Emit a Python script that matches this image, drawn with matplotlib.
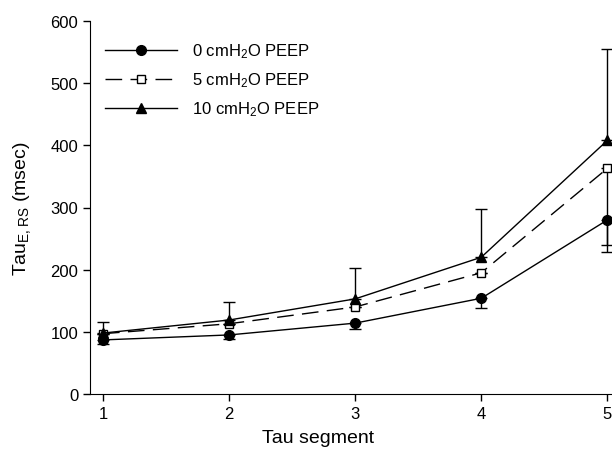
import matplotlib
matplotlib.use("Agg")
import matplotlib.pyplot as plt
from matplotlib.lines import Line2D

plt.rcParams['font.family'] = ['Liberation Sans', 'DejaVu Sans']
plt.rcParams['mathtext.default'] = 'regular'

# data
segments = [1, 2, 3, 4, 5]
peep0 = [87, 95, 114, 154, 280]
peep0_lo = [6, 7, 9, 15, 51]
peep5 = [97, 113, 140, 195, 363]
peep5_lo = [0, 0, 0, 0, 123]
peep10 = [98, 119, 153, 220, 408]
peep10_hi = [18, 29, 50, 77, 147]
labels = ['0 cmH$_2$O PEEP', '5 cmH$_2$O PEEP', '10 cmH$_2$O PEEP']

zeros = [0] * len(segments)

fig = plt.figure(figsize=(6.12, 4.52), dpi=100)
ax = fig.add_axes([90/612, 57/452, 530/612, 373/452])

eb = dict(color='black', lw=1, capsize=4.5, elinewidth=1, capthick=1)
ax.errorbar(segments, peep0, yerr=[peep0_lo, zeros], marker='o', ms=7, **eb)
ax.errorbar(segments, peep5, yerr=[peep5_lo, zeros], dashes=(12, 6),
            marker='s', ms=6, mfc='white', mec='black', **eb)
ax.errorbar(segments, peep10, yerr=[zeros, peep10_hi], marker='^', ms=7, **eb)

handles = [
    Line2D([], [], color='black', lw=1, marker='o', ms=7),
    Line2D([], [], color='black', lw=1, dashes=(12, 6), marker='s', ms=6,
           mfc='white', mec='black'),
    Line2D([], [], color='black', lw=1, marker='^', ms=7),
]

ax.set_xlim(0.897, 5.1)
ax.set_ylim(0, 600)
ax.set_xticks(segments)
ax.set_yticks([0, 100, 200, 300, 400, 500, 600])
ax.spines['top'].set_visible(False)
ax.spines['right'].set_visible(False)
ax.tick_params(direction='out', length=5, width=1, labelsize=12)

ax.set_xlabel('Tau segment', fontsize=14)
ax.xaxis.set_label_coords((318 - 90) / 530, -0.095)
ax.set_ylabel('Tau$_{E,RS}$ (msec)', fontsize=14)
ax.yaxis.set_label_coords(-0.108, 0.5)

ax.legend(handles, labels, loc='upper left', bbox_to_anchor=(0.0, 0.985),
          frameon=False, fontsize=12, handlelength=4.3, labelspacing=0.62,
          handletextpad=0.9)

fig.savefig('out.png', dpi=100)
